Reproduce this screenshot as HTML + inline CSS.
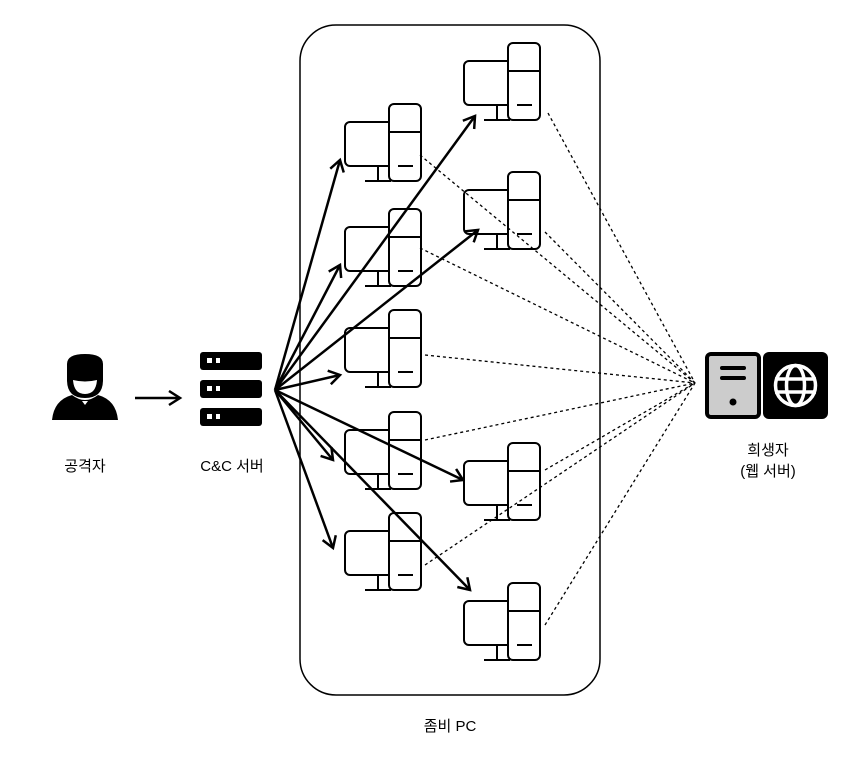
<!DOCTYPE html>
<html><head><meta charset="utf-8"><style>
body{margin:0;background:#fff}
svg text{font-family:"Liberation Sans","Noto Sans CJK KR",sans-serif;font-size:15px;fill:#000;text-anchor:middle}
</style></head><body>
<svg width="861" height="759" viewBox="0 0 861 759" xmlns="http://www.w3.org/2000/svg">
<defs>
<g id="pc" fill="#fff" stroke="#000" stroke-width="2">
<rect x="-44" y="18" width="50" height="44" rx="5"/>
<line x1="-11" y1="62" x2="-11" y2="77"/>
<line x1="-24" y1="77" x2="2" y2="77"/>
<rect x="0" y="0" width="32" height="77" rx="5"/>
<line x1="0" y1="28" x2="32" y2="28"/>
<line x1="9" y1="62" x2="24" y2="62"/>
</g>
<marker id="ah" markerWidth="18" markerHeight="18" refX="12" refY="8" orient="auto" markerUnits="userSpaceOnUse">
<path d="M1,1 L12,8 L1,15" fill="none" stroke="#000" stroke-width="2.5"/>
</marker>
</defs>
<rect x="300" y="25" width="300" height="670" rx="36" fill="none" stroke="#000" stroke-width="1.5"/>
<use href="#pc" x="389" y="104"/>
<use href="#pc" x="389" y="209"/>
<use href="#pc" x="389" y="310"/>
<use href="#pc" x="389" y="412"/>
<use href="#pc" x="389" y="513"/>
<use href="#pc" x="508" y="43"/>
<use href="#pc" x="508" y="172"/>
<use href="#pc" x="508" y="443"/>
<use href="#pc" x="508" y="583"/>
<g stroke="#000" stroke-width="1.3" stroke-dasharray="3,3" fill="none">
<line x1="420" y1="155" x2="695" y2="383"/>
<line x1="420" y1="248" x2="695" y2="383"/>
<line x1="425" y1="355" x2="695" y2="383"/>
<line x1="425" y1="440" x2="695" y2="383"/>
<line x1="425" y1="565" x2="695" y2="383"/>
<line x1="548" y1="113" x2="695" y2="383"/>
<line x1="545" y1="232" x2="695" y2="383"/>
<line x1="545" y1="470" x2="695" y2="383"/>
<line x1="545" y1="625" x2="695" y2="383"/>
</g>
<g stroke="#000" stroke-width="2.5" fill="none" marker-end="url(#ah)">
<line x1="275" y1="390" x2="340" y2="160"/>
<line x1="275" y1="390" x2="340" y2="265"/>
<line x1="275" y1="390" x2="340" y2="375"/>
<line x1="275" y1="390" x2="333" y2="460"/>
<line x1="275" y1="390" x2="333" y2="548"/>
<line x1="275" y1="390" x2="475" y2="116"/>
<line x1="275" y1="390" x2="478" y2="230"/>
<line x1="275" y1="390" x2="463" y2="480"/>
<line x1="275" y1="390" x2="470" y2="590"/>
<line x1="135" y1="398" x2="180" y2="398"/>
</g>
<!-- attacker -->
<path d="M67,364 Q67,354 85,354 Q103,354 103,364 L103,380 Q103,398 85,398 Q67,398 67,380 Z" fill="#000"/>
<path d="M73,380 Q85,383 97,380 Q96,394 85,394 Q74,394 73,380Z" fill="#fff"/>
<path d="M52,420 Q54,400 72,395 Q85,405 98,395 Q116,400 118,420 Z" fill="#000"/>
<path d="M82,401 L88,401 L85,405 Z" fill="#fff"/>
<!-- server -->
<g fill="#000"><rect x="200" y="352" width="62" height="18" rx="3"/><rect x="200" y="380" width="62" height="18" rx="3"/><rect x="200" y="408" width="62" height="18" rx="3"/></g>
<g fill="#fff"><rect x="207" y="358" width="5" height="5"/><rect x="216" y="358" width="4" height="5"/><rect x="207" y="386" width="5" height="5"/><rect x="216" y="386" width="4" height="5"/><rect x="207" y="414" width="5" height="5"/><rect x="216" y="414" width="4" height="5"/></g>
<!-- victim -->
<rect x="707" y="354" width="52" height="63" rx="4" fill="#ccc" stroke="#000" stroke-width="4"/>
<rect x="720" y="366" width="26" height="4" rx="2" fill="#000"/>
<rect x="720" y="376" width="26" height="4" rx="2" fill="#000"/>
<circle cx="733" cy="402" r="3.5" fill="#000"/>
<rect x="763" y="352" width="65" height="67" rx="6" fill="#000"/>
<g fill="none" stroke="#fff" stroke-width="3.5">
<circle cx="795.5" cy="385.5" r="20"/>
<ellipse cx="795.5" cy="385.5" rx="9" ry="20"/>
<line x1="775" y1="379" x2="816" y2="379"/><line x1="775" y1="392" x2="816" y2="392"/>
</g>
<text x="85" y="471">공격자</text>
<text x="232" y="471">C&amp;C 서버</text>
<text x="768" y="455">희생자</text>
<text x="768" y="476">(웹 서버)</text>
<text x="450" y="731">좀비 PC</text>
</svg>
</body></html>
